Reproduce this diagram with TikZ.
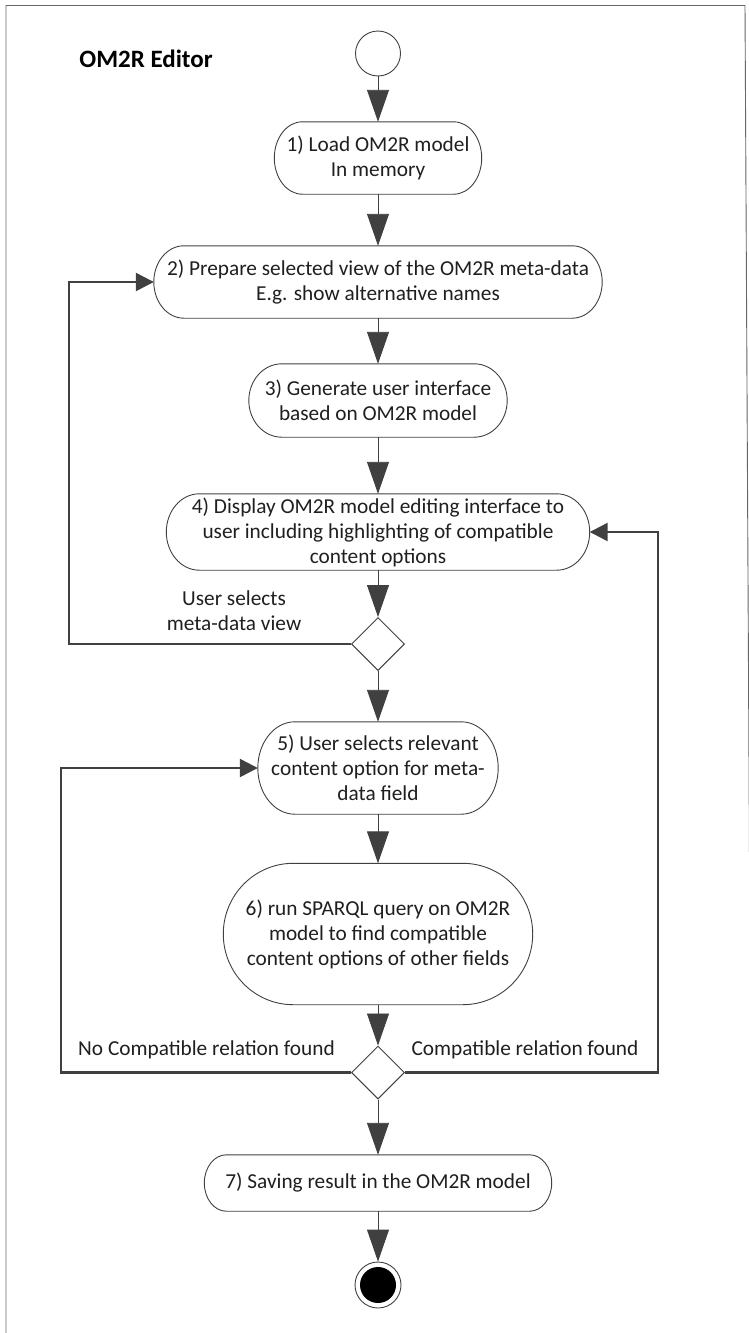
\documentclass[tikz,border=0pt]{standalone}
\usepackage{fontspec}
\setmainfont{Carlito}
\usetikzlibrary{arrows.meta,shapes.geometric,calc}
\definecolor{ink}{HTML}{404040}
\definecolor{txt}{HTML}{1F1F1F}
\tikzset{
  stagebox/.style={draw=none, inner sep=0pt, align=center, text=txt,
    font=\fontsize{21.3}{25}\selectfont},
  boxline/.style={draw=ink, line width=0.9pt},
  flow/.style={draw=ink, line width=0.9pt, -{Triangle[length=32pt,width=22pt]}, ink},
  backflow/.style={draw=ink, line width=2.4pt, -{Triangle[length=18pt,width=18pt]}, ink},
  decision/.style={diamond, draw=ink, line width=1pt, inner sep=0pt, minimum width=53pt, minimum height=53pt, aspect=1},
  lbl/.style={inner sep=0pt, text=txt, font=\fontsize{21.3}{25}\selectfont, align=center},
}
\newcommand\stadium[2]{%
  \draw[boxline] let \p1=(#1.north east), \p2=(#1.south west), \n1={(\y1-\y2)/2} in
    (\x2+#2,\y1) -- (\x1-#2,\y1) arc[start angle=90,end angle=-90,x radius=#2,y radius=\n1]
    -- (\x2+#2,\y2) arc[start angle=270,end angle=90,x radius=#2,y radius=\n1] -- cycle;}
\begin{document}
\begin{tikzpicture}[x=1pt,y=-1pt]
\useasboundingbox (0,0) rectangle (749,1333);
% frame
\draw[draw=ink!80, line width=0.9pt] (6,1340) -- (6,5.5) -- (745,5.5) -- (752,1340);
% title
\node[inner sep=0pt, text=black, font=\fontsize{25}{30}\selectfont\bfseries] (title) at (146,59) {OM2R Editor};
% start
\node[circle, draw=ink, line width=0.9pt, minimum size=45pt, inner sep=0pt] (start) at (378,53.5) {};
% stages
\node[stagebox, minimum width=207pt, minimum height=72pt] (b1) at (378,158) {1) Load OM2R model\\In memory};
\node[stagebox, minimum width=448pt, minimum height=72pt] (b2) at (378,282) {2) Prepare selected view of the OM2R meta-data\\E.g. show alternative names};
\node[stagebox, minimum width=258pt, minimum height=73pt] (b3) at (378,400.5) {3) Generate user interface\\based on OM2R model};
\node[stagebox, minimum width=423pt, minimum height=76pt] (b4) at (378,532) {4) Display OM2R model editing interface to\\user including highlighting of compatible\\content options};
\node[decision] (d1) at (378,644) {};
\node[stagebox, minimum width=240pt, minimum height=92pt] (b5) at (378,768) {5) User selects relevant\\content option for meta-\\data field};
\node[stagebox, minimum width=309pt, minimum height=141pt] (b6) at (378,934) {6) run SPARQL query on OM2R\\model to find compatible\\content options of other fields};
\node[decision] (d2) at (378,1072.5) {};
\node[stagebox, minimum width=347pt, minimum height=56pt] (b7) at (378,1183) {7) Saving result in the OM2R model};
\node[circle, draw=ink, line width=0.9pt, minimum size=46pt, inner sep=0pt] (end) at (378,1285) {};
\fill[black] (end.center) circle[radius=18pt];
\stadium{b1}{28pt}
\stadium{b2}{30pt}
\stadium{b3}{33pt}
\stadium{b4}{33pt}
\stadium{b5}{37pt}
\stadium{b6}{70pt}
\stadium{b7}{22pt}
% labels
\node[lbl] (l1) at (234,611) {User selects\\meta-data view};
\node[lbl] (l2) at (206.5,1050) {No Compatible relation found};
\node[lbl] (l3) at (525,1050) {Compatible relation found};
% flow
\draw[flow] (start) -- (b1);
\draw[flow] (b1) -- (b2);
\draw[flow] (b2) -- (b3);
\draw[flow] (b3) -- (b4);
\draw[flow] (b4) -- (d1);
\draw[flow] (d1) -- (b5);
\draw[flow] (b5) -- (b6);
\draw[flow] (b6) -- (d2);
\draw[flow] (d2) -- (b7);
\draw[flow] (b7) -- (end);
% loops
\draw[backflow] (d1.west) -- ++(-282,0) |- (b2.west);
\draw[backflow] (d2.west) -- ++(-290,0) |- (b5.west);
\draw[backflow] (d2.east) -- ++(253,0) |- (b4.east);
\end{tikzpicture}
\end{document}
